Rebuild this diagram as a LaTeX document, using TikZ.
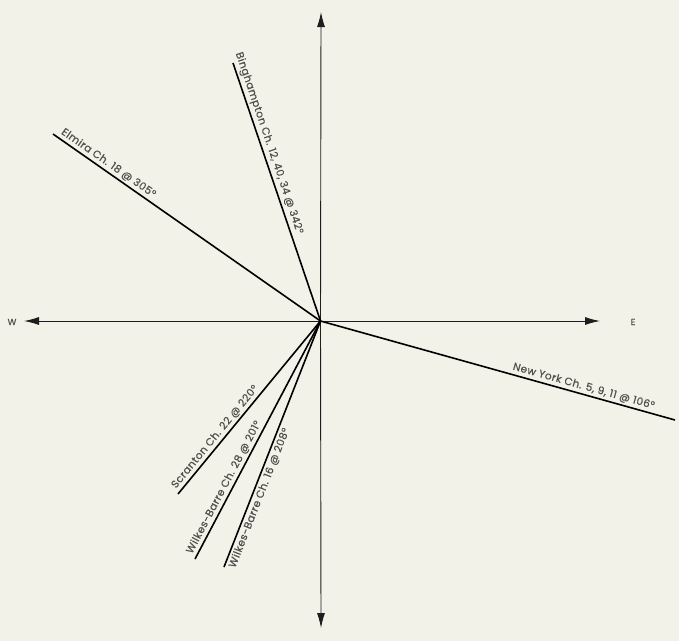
\documentclass[tikz,border=0pt]{standalone}
\usepackage{fontspec}
\setmainfont{Poppins}[LetterSpace=4,FakeBold=0.6]
\usetikzlibrary{arrows.meta}
\definecolor{paper}{RGB}{243,242,233}
\definecolor{ink}{RGB}{30,30,30}
\definecolor{labgray}{RGB}{80,80,76}
\tikzset{
  axis/.style={draw=ink, line width=0.9pt, -{Latex[length=15pt,width=8pt]}},
  ray/.style={draw=black, line width=1.6pt},
  lab/.style={sloped, font=\fontsize{10.5}{11}\selectfont, text=labgray, inner sep=2pt},
  dirlab/.style={font=\fontsize{9}{10}\selectfont, text=labgray}
}
\begin{document}
\begin{tikzpicture}[x=1pt,y=-1pt]
\fill[paper] (0,0) rectangle (679,641);
\useasboundingbox (0,0) rectangle (679,641);
\coordinate (O) at (320.5,321);
\coordinate (nt) at (321,12);
\coordinate (st) at (321,628);
\coordinate (wt) at (24,321);
\coordinate (et) at (600,321);
\node[dirlab] (W) at (12,322) {W};
\node[dirlab] (E) at (633,322) {E};
\node[dirlab] (S) at (321,646) {S};
\draw[axis] (O) -- (nt);
\draw[axis] (O) -- (st);
\draw[axis] (O) -- (wt);
\draw[axis] (O) -- (et);
\coordinate (elm) at (53,134);
\coordinate (bing) at (233,63);
\coordinate (ny) at (675,420);
\coordinate (scr) at (178,494);
\coordinate (wbA) at (195,559);
\coordinate (wbB) at (224,567);
\draw[ray] (elm) -- (O) node[lab, pos=0.01, anchor=south west] (elml) {Elmira Ch. 18 @ 305°};
\draw[ray] (bing) -- (O) node[lab, pos=-0.04, anchor=south west] (bingl) {Binghampton Ch. 12, 40, 34 @ 342°};
\draw[ray] (O) -- (ny) node[lab, pos=0.53, anchor=south west] (nyl) {New York Ch. 5, 9, 11 @ 106°};
\draw[ray] (scr) -- (O) node[lab, pos=0.0, anchor=south west] (scrl) {Scranton Ch. 22 @ 220°};
\draw[ray] (wbA) -- (O) node[lab, pos=0.0, anchor=south west] (wbAl) {Wilkes-Barre Ch. 28 @ 201°};
\draw[ray] (wbB) -- (O) node[lab, pos=0.0, anchor=north west] (wbBl) {Wilkes-Barre Ch. 16 @ 208°};
\end{tikzpicture}
\end{document}
